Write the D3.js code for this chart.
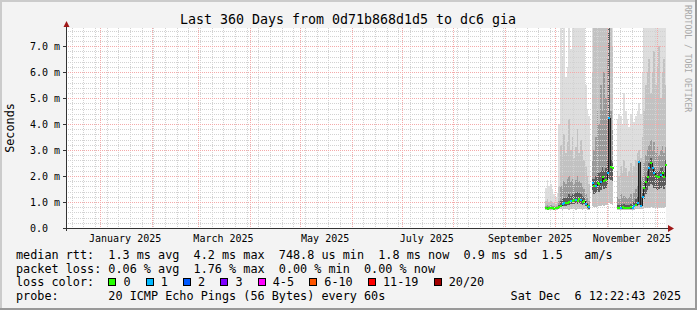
<!DOCTYPE html>
<html>
<head>
<meta charset="utf-8">
<script src="https://cdn.jsdelivr.net/npm/d3@7"></script>
<style>
body { margin: 0; background: #fff; }
svg { display: block; }
text { font-family: "DejaVu Sans Mono", monospace; white-space: pre; }
</style>
</head>
<body>
<script>
var W = 697, H = 310
var plotL = 66, plotR = 666, plotT = 28, plotB = 228

var title = "Last 360 Days from 0d71b868d1d5 to dc6 gia"
var endTime = new Date(2025, 11, 6, 12, 22, 43)
var startTime = d3.timeDay.offset(endTime, -360)
var firstDay = new Date(2025, 8, 25)   // first day with samples

var yMax = 7.7
var yTickValues = [0, 1, 2, 3, 4, 5, 6, 7]
var yTickLabels = ["0.0  ", "1.0 m", "2.0 m", "3.0 m", "4.0 m", "5.0 m", "6.0 m", "7.0 m"]
var xLabelMonths = [new Date(2025, 0, 1), new Date(2025, 2, 1), new Date(2025, 4, 1),
                    new Date(2025, 6, 1), new Date(2025, 8, 1), new Date(2025, 10, 1)]

// one value per day from Sep 25 2025, in ms (null = no data)
var median = [0.76,0.75,0.76,0.77,0.76,0.75,0.76,0.77,
  0.80,0.86,0.93,0.95,0.95,0.98,1.02,1.04,1.03,1.06,1.08,1.05,1.10,1.07,1.02,1.05,0.92,0.84,0.80,
  null,
  1.74,1.60,1.62,1.75,1.70,1.78,1.95,1.80,1.85,2.10,4.23,2.36,2.30,
  null,null,
  0.78,0.77,0.78,0.79,0.78,0.77,0.78,0.78,0.79,0.78,0.85,0.90,0.95,2.55,0.86,
  1.20,1.55,1.78,1.97,2.30,2.50,2.30,2.10,2.00,1.95,1.97,2.04,2.10,1.95,2.42]
var loss = [0,0,0,0,0,0,0,0,
  0,0,1,1,0,0,0,1,0,0,1,0,0,1,0,0,1,0,1,
  0,
  1,0,1,0,0,1,0,0,0,1,1,0,0,
  0,0,
  0,0,1,0,0,0,0,0,0,1,1,0,1,1,1,
  1,0,0,0,1,0,1,1,0,0,0,1,0,0,0]
var smokeLo = [0.70,0.70,0.71,0.70,0.70,0.70,0.71,0.70,
  0.72,0.72,0.70,0.72,0.73,0.72,0.71,0.72,0.73,0.72,0.71,0.72,0.73,0.72,0.71,0.72,0.72,0.71,0.70,
  null,
  0.85,0.80,0.82,0.85,0.83,0.86,0.90,0.85,0.88,0.90,0.95,0.92,0.90,
  null,null,
  0.70,0.70,0.71,0.70,0.70,0.71,0.70,0.70,0.71,0.70,0.71,0.72,0.72,0.74,0.72,
  0.75,0.76,0.76,0.78,0.78,0.80,0.78,0.78,0.77,0.78,0.78,0.77,0.78,0.78,0.79]
var coreLo = [0.73,0.72,0.73,0.74,0.73,0.72,0.73,0.74,
  0.76,0.80,0.84,0.86,0.86,0.88,0.90,0.92,0.91,0.93,0.95,0.92,0.96,0.94,0.90,0.92,0.83,0.77,0.75,
  null,
  1.45,1.30,1.35,1.45,1.40,1.48,1.60,1.50,1.55,1.70,1.90,1.85,1.80,
  null,null,
  0.74,0.73,0.74,0.75,0.74,0.73,0.74,0.74,0.75,0.74,0.79,0.83,0.86,0.90,0.80,
  0.95,1.10,1.30,1.45,1.60,1.70,1.65,1.55,1.50,1.45,1.50,1.55,1.60,1.50,1.65]
var q1 = [0.80,0.81,0.80,0.80,0.80,0.79,0.79,0.80,
  0.88,1.05,1.10,1.15,1.15,1.20,1.30,1.25,1.30,1.30,1.35,1.40,1.35,1.30,1.25,1.20,1.05,0.95,0.90,
  null,
  1.90,1.90,2.00,2.10,2.10,2.20,2.40,2.20,2.30,2.60,7.70,2.60,2.50,
  null,null,
  0.90,0.88,0.92,0.90,0.92,0.90,0.88,0.90,0.92,0.90,1.00,1.10,1.20,2.55,1.20,
  1.40,1.80,2.00,2.20,2.50,2.70,2.50,2.30,2.20,2.20,2.20,2.30,2.40,2.20,2.60]
var q2 = [0.86,0.88,0.86,0.87,0.85,0.84,0.83,0.86,
  1.05,1.60,1.50,1.80,1.70,1.90,2.00,1.80,1.90,1.70,1.85,2.00,1.80,1.75,1.60,1.50,1.30,1.15,1.05,
  null,
  2.60,3.00,3.50,4.50,4.00,5.50,4.50,6.00,5.00,6.50,7.70,4.50,3.80,
  null,null,
  1.20,1.10,1.30,1.15,1.25,1.20,1.10,1.20,1.30,1.15,1.35,1.50,1.60,2.60,1.80,
  2.00,2.50,2.80,3.00,3.20,3.40,3.00,3.30,2.90,3.10,2.80,3.00,3.20,2.90,3.10]
var q3 = [1.05,1.10,1.00,1.05,0.98,0.95,0.92,1.00,
  1.60,3.20,2.80,3.60,2.90,3.30,4.20,3.00,3.50,2.70,3.10,3.80,2.90,3.40,3.00,2.60,2.40,2.00,1.70,
  null,
  6.00,7.70,7.70,7.70,7.70,7.70,7.70,7.70,7.70,7.70,7.70,7.70,7.00,
  null,null,
  2.20,2.00,2.40,2.10,2.60,2.30,2.00,2.20,2.50,2.10,2.40,2.60,2.90,3.00,2.70,
  3.50,4.50,5.50,6.00,6.50,5.20,6.00,6.80,5.50,6.20,7.00,5.00,6.00,6.50,5.50]
var q4 = [1.55,1.85,1.60,1.70,1.50,1.30,1.20,1.35,
  4.00,7.70,6.50,7.70,5.80,6.20,7.70,6.90,7.70,7.70,7.70,7.70,7.70,7.70,7.70,7.70,5.50,4.60,4.30,
  null,
  7.70,7.70,7.70,7.70,7.70,7.70,7.70,7.70,7.70,7.70,7.70,7.70,7.70,
  null,null,
  4.20,4.40,4.30,4.00,5.20,4.50,4.20,3.90,4.40,4.60,4.10,4.30,4.50,4.80,4.40,
  6.00,7.70,7.70,7.70,7.70,7.70,7.70,7.70,7.70,7.70,7.70,7.70,7.70,7.70,7.70]

var lossLabels = ["0", "1", "2", "3", "4-5", "6-10", "11-19", "20/20"]
var lossColors = ["#26ff00", "#00b8ff", "#0059ff", "#7e00ff", "#ff00ff", "#ff5500", "#ff0000", "#a10000"]

var statRows = [
  "median rtt:  1.3 ms avg  4.2 ms max  748.8 us min  1.8 ms now  0.9 ms sd  1.5   am/s",
  "packet loss: 0.06 % avg  1.76 % max  0.00 % min  0.00 % now"
]
var probeText = "probe:       20 ICMP Echo Pings (56 Bytes) every 60s"
var stampText = "Sat Dec  6 12:22:43 2025"

var svg = d3.select("body").append("svg")
            .attr("width", W)
            .attr("height", H)

// canvas + frame
svg.append("rect").attr("x", 0).attr("y", 0).attr("width", W).attr("height", H).attr("fill", "#f3f3f3")
svg.append("rect").attr("x", 0).attr("y", 0).attr("width", W).attr("height", 2).attr("fill", "#cbcbcb")
svg.append("rect").attr("x", 0).attr("y", 0).attr("width", 2).attr("height", H).attr("fill", "#cbcbcb")
svg.append("rect").attr("x", 0).attr("y", H - 2).attr("width", W).attr("height", 2).attr("fill", "#999999")
svg.append("rect").attr("x", W - 2).attr("y", 0).attr("width", 2).attr("height", H).attr("fill", "#999999")

svg.append("rect").attr("x", plotL).attr("y", plotT)
   .attr("width", plotR - plotL).attr("height", plotB - plotT).attr("fill", "#ffffff")

var x = d3.scaleTime().domain([startTime, endTime]).range([plotL, plotR])
var y = d3.scaleLinear().domain([0, yMax]).range([plotB, plotT]).clamp(true)

var days = median.map(function(m, i) {
  return {
    t0: d3.timeDay.offset(firstDay, i), t1: d3.timeDay.offset(firstDay, i + 1),
    med: m, loss: loss[i], lo: smokeLo[i], clo: coreLo[i],
    q1: q1[i], q2: q2[i], q3: q3[i], q4: q4[i]
  }
}).filter(function(d) { return d.med != null })

function colX(d) { return Math.round(x(d.t0)) }
function colW(d) { return Math.min(Math.round(x(d.t1)), plotR) - Math.round(x(d.t0)) }

// smoke, outer band first
var bands = [
  {lo: "lo", hi: "q4", color: "#dedede"},
  {lo: "lo", hi: "q3", color: "#c2c2c2"},
  {lo: "clo", hi: "q2", color: "#9a9a9a"},
  {lo: "clo", hi: "q1", color: "#5c5c5c"}
]
var smoke = svg.append("g").attr("shape-rendering", "crispEdges")
bands.forEach(function(b) {
  smoke.selectAll(null).data(days).enter().append("rect")
       .attr("x", colX)
       .attr("width", colW)
       .attr("y", function(d) { return y(d[b.hi]) })
       .attr("height", function(d) { return y(d[b.lo]) - y(d[b.hi]) })
       .attr("fill", b.color)
})

// grid
var grid = svg.append("g").attr("shape-rendering", "crispEdges")
var minorY = d3.range(0.2, yMax, 0.2).filter(function(v) { return Math.abs(v - Math.round(v)) > 0.01 })
grid.selectAll(null).data(minorY).enter().append("line")
    .attr("x1", plotL).attr("x2", plotR)
    .attr("y1", function(v) { return Math.round(y(v)) + 0.5 })
    .attr("y2", function(v) { return Math.round(y(v)) + 0.5 })
    .attr("stroke", "#d2d2d2").attr("stroke-dasharray", "1,1")
grid.selectAll(null).data(d3.timeSunday.range(startTime, endTime)).enter().append("line")
    .attr("y1", plotT).attr("y2", plotB)
    .attr("x1", function(t) { return Math.round(x(t)) + 0.5 })
    .attr("x2", function(t) { return Math.round(x(t)) + 0.5 })
    .attr("stroke", "#d2d2d2").attr("stroke-dasharray", "1,1")
grid.selectAll(null).data(yTickValues.slice(1)).enter().append("line")
    .attr("x1", plotL).attr("x2", plotR)
    .attr("y1", function(v) { return Math.round(y(v)) + 0.5 })
    .attr("y2", function(v) { return Math.round(y(v)) + 0.5 })
    .attr("stroke", "#f4aaaa").attr("stroke-dasharray", "1,1")
grid.selectAll(null).data(d3.timeMonth.range(startTime, endTime)).enter().append("line")
    .attr("y1", plotT).attr("y2", plotB)
    .attr("x1", function(t) { return Math.round(x(t)) + 0.5 })
    .attr("x2", function(t) { return Math.round(x(t)) + 0.5 })
    .attr("stroke", "#f4aaaa").attr("stroke-dasharray", "1,1")

// median: dark risers, then loss coloured steps
var med = svg.append("g").attr("shape-rendering", "crispEdges")
var pairs = d3.pairs(days).filter(function(p) { return +p[0].t1 == +p[1].t0 })
med.selectAll(null).data(pairs).enter().append("line")
   .attr("x1", function(p) { return colX(p[1]) + 0.5 })
   .attr("x2", function(p) { return colX(p[1]) + 0.5 })
   .attr("y1", function(p) { return y(p[0].med) })
   .attr("y2", function(p) { return y(p[1].med) })
   .attr("stroke", "#1e1e1e").attr("stroke-width", 1)
med.selectAll(null).data(days).enter().append("rect")
   .attr("x", colX)
   .attr("width", function(d) { return Math.max(colW(d), 2) })
   .attr("y", function(d) { return Math.round(y(d.med)) - 1 })
   .attr("height", 2)
   .attr("fill", function(d) { return lossColors[d.loss] })

// axes
var axes = svg.append("g").attr("shape-rendering", "crispEdges")
axes.append("line").attr("x1", plotL + 0.5).attr("x2", plotL + 0.5).attr("y1", plotB + 3).attr("y2", plotT - 3)
    .attr("stroke", "#333")
axes.append("line").attr("x1", plotL - 3).attr("x2", plotR + 3).attr("y1", plotB + 0.5).attr("y2", plotB + 0.5)
    .attr("stroke", "#333")
axes.selectAll(null).data(yTickValues).enter().append("line")
    .attr("x1", plotL - 3).attr("x2", plotL)
    .attr("y1", function(v) { return Math.round(y(v)) + 0.5 })
    .attr("y2", function(v) { return Math.round(y(v)) + 0.5 })
    .attr("stroke", "#333")
svg.append("path").attr("d", "M63.5,27L69.5,27L66.5,21Z").attr("fill", "#a01818")
svg.append("path").attr("d", "M668,225L668,232L674,228.5Z").attr("fill", "#a01818")

svg.selectAll(null).data(yTickValues).enter().append("text")
   .attr("x", 60)
   .attr("y", function(v) { return y(v) + 3.8 })
   .attr("text-anchor", "end")
   .attr("font-size", "10px")
   .attr("fill", "#000")
   .text(function(v, i) { return yTickLabels[i] })

svg.selectAll(null).data(xLabelMonths).enter().append("text")
   .attr("x", function(m) { return x(d3.timeDay.offset(m, 15)) })
   .attr("y", 241.5)
   .attr("text-anchor", "middle")
   .attr("font-size", "10px")
   .attr("fill", "#000")
   .text(d3.timeFormat("%B %Y"))

// titles
svg.append("text").attr("x", 348).attr("y", 24).attr("text-anchor", "middle")
   .attr("font-size", "13.3px").attr("fill", "#000").text(title)
svg.append("text").attr("transform", "translate(13.5,128) rotate(-90)")
   .attr("text-anchor", "middle").attr("font-size", "11.8px").attr("fill", "#000").text("Seconds")
svg.append("text").attr("transform", "translate(685,5) rotate(90)")
   .attr("font-size", "8.1px").attr("fill", "#a8a8a8").text("RRDTOOL / TOBI OETIKER")

// legend
var legend = svg.append("g").attr("font-size", "11.8px").attr("fill", "#000")
var rowY = [259, 272.5, 286, 299.5]
legend.selectAll(null).data(statRows).enter().append("text")
      .attr("x", 16).attr("y", function(r, i) { return rowY[i] }).text(function(r) { return r })
legend.append("text").attr("x", 16).attr("y", rowY[2]).text("loss color:")
legend.append("text").attr("x", 16).attr("y", rowY[3]).text(probeText)
legend.append("text").attr("x", 681).attr("y", rowY[3]).attr("text-anchor", "end").text(stampText)

var probe = legend.append("text").text("0")
var cw = probe.node().getComputedTextLength()
probe.remove()

var sx = 16 + 13 * cw
lossLabels.forEach(function(lab, i) {
  legend.append("rect").attr("x", Math.round(sx) + 0.5).attr("y", 278.5).attr("width", 7).attr("height", 7)
        .attr("fill", lossColors[i]).attr("stroke", "#000").attr("stroke-width", 1)
  legend.append("text").attr("x", sx + 15).attr("y", rowY[2]).text(lab)
  sx += 16 + (lab.length + 2) * cw
})
</script>
</body>
</html>
